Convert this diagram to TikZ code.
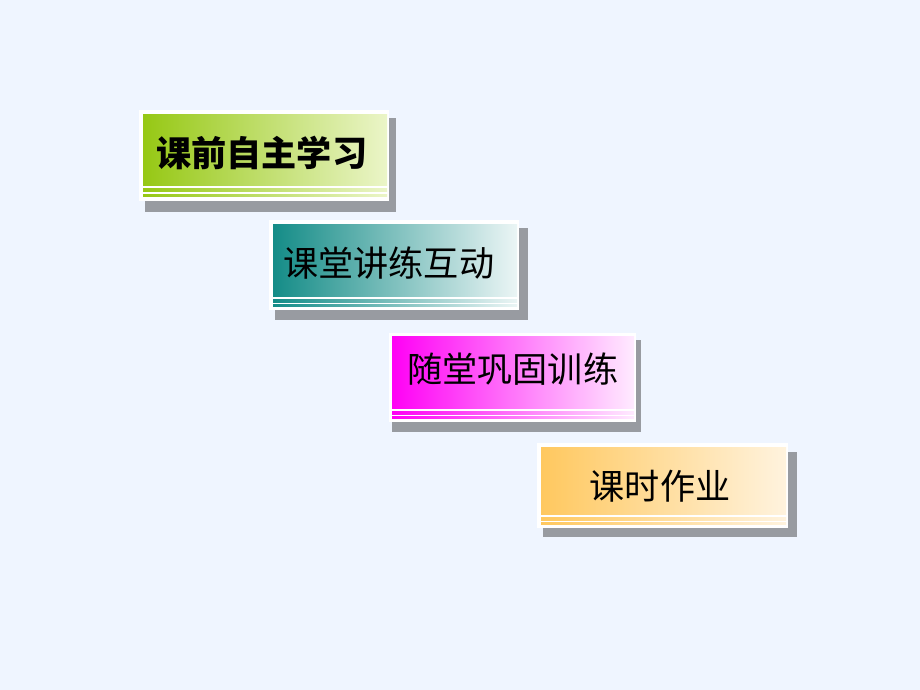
\documentclass[tikz,border=0pt]{standalone}
\usepackage{fontspec}
\newfontfamily\cjk{Noto Sans CJK SC}
\usepackage{tikz}
\usetikzlibrary{}

\definecolor{bg}{RGB}{239,245,255}
\definecolor{shadowgray}{RGB}{152,155,161}
\definecolor{greenA}{RGB}{150,200,20}
\definecolor{greenB}{RGB}{235,245,200}
\definecolor{tealA}{RGB}{20,140,135}
\definecolor{tealB}{RGB}{235,245,245}
\definecolor{pinkA}{RGB}{255,0,245}
\definecolor{pinkB}{RGB}{255,235,255}
\definecolor{goldA}{RGB}{255,200,95}
\definecolor{goldB}{RGB}{255,243,222}

\tikzset{
  shadowbox/.style={fill=shadowgray},
  framebox/.style={fill=white},
  label/.style={font=\cjk\fontsize{20}{20}\selectfont, inner sep=0pt}
}

\begin{document}
\begin{tikzpicture}[x=0.02cm,y=-0.02cm]
  \fill[bg] (0,0) rectangle (920,690);
  % first box
  \fill[shadowbox] (145,118) rectangle (396,212);
  \fill[framebox] (139,110) rectangle (389,201);
  \fill[left color=greenA,right color=greenB] (143,114) rectangle (387,185);
  \fill[left color=greenA,right color=greenB] (143,188) rectangle (387,191);
  \fill[left color=greenA,right color=greenB] (143,194) rectangle (387,196);
  \node[label,anchor=west,font=\cjk\bfseries\fontsize{20}{20}\selectfont] (self) at (156,153) {课前自主学习};
  % second box
  \fill[shadowbox] (275,228) rectangle (528,320);
  \fill[framebox] (269,220) rectangle (519,310);
  \fill[left color=tealA,right color=tealB] (273,224) rectangle (517,296);
  \fill[left color=tealA,right color=tealB] (273,299) rectangle (517,302);
  \fill[left color=tealA,right color=tealB] (273,304) rectangle (517,306);
  \node[label,anchor=west] (class) at (283,263) {课堂讲练互动};
  % third box
  \fill[shadowbox] (392,340) rectangle (641,432);
  \fill[framebox] (389,333) rectangle (636,422);
  \fill[left color=pinkA,right color=pinkB] (392,336) rectangle (634,408);
  \fill[left color=pinkA,right color=pinkB] (392,411) rectangle (634,414);
  \fill[left color=pinkA,right color=pinkB] (392,416) rectangle (634,418);
  \node[label,anchor=west] (practice) at (407,369) {随堂巩固训练};
  % fourth box
  \fill[shadowbox] (543,452) rectangle (797,537);
  \fill[framebox] (537,443) rectangle (788,528);
  \fill[left color=goldA,right color=goldB] (541,447) rectangle (786,514);
  \fill[left color=goldA,right color=goldB] (541,517) rectangle (786,520);
  \fill[left color=goldA,right color=goldB] (541,522) rectangle (786,524);
  \node[label] (homework) at (660,486) {课时作业};
\end{tikzpicture}
\end{document}
